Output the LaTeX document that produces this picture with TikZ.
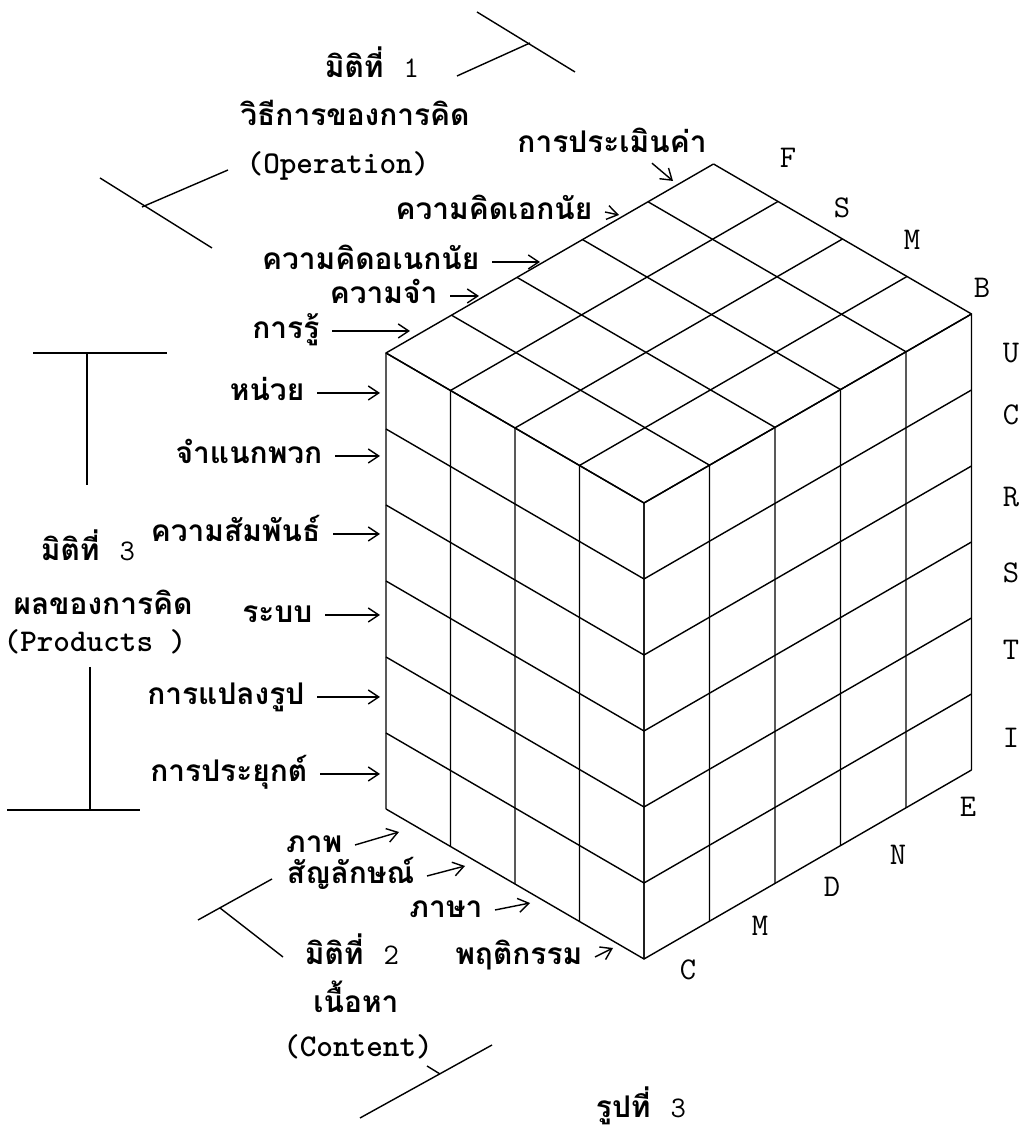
\documentclass[tikz,border=0pt]{standalone}
\usepackage{fontspec}
\newfontfamily\thai[Script=Thai]{Loma}
\usetikzlibrary{arrows.meta}

\begin{document}
\begin{tikzpicture}[>={Straight Barb[length=6pt,width=8pt]},line width=0.8pt,
  th/.style={font=\thai\bfseries\fontsize{17}{20}\selectfont,text height=0.3cm,text depth=0pt,inner sep=0pt},
  lb/.style={th,anchor=east,inner xsep=0.24cm},
  lt/.style={font=\ttfamily\fontsize{18}{20}\selectfont,inner sep=0pt},
  ltb/.style={lt,font=\ttfamily\bfseries\fontsize{18}{20}\selectfont}]
\useasboundingbox (0,0) rectangle (20.54,22.7);

\begin{scope}[shift={(12.88,3.52)},x={(1.31cm,0.756cm)},y={(-1.29cm,0.75cm)},z={(0cm,1.52cm)}]
\foreach \i in {0,...,5} \draw (\i,0,0) -- (\i,0,6) -- (\i,4,6);
\foreach \j in {0,...,4} \draw (0,\j,0) -- (0,\j,6) -- (5,\j,6);
\foreach \k in {0,...,6} \draw (5,0,\k) -- (0,0,\k) -- (0,4,\k);
\end{scope}

\node[th] (d1) at (7.44,21.3) {มิติที่\hspace{0.4cm}{\ttfamily\mdseries 1}};
\node[th] (d1a) at (7.1,20.34) {วิธีการของการคิด};
\node[ltb] (d1b) at (6.76,19.38) {(Operation)};
\node[th] (d3) at (1.76,11.64) {มิติที่\hspace{0.4cm}{\ttfamily\mdseries 3}};
\node[th] (d3a) at (2.06,10.56) {ผลของการคิด};
\node[ltb] (d3b) at (1.9,9.86) {(Products )};
\node[th] (d2) at (7.04,3.56) {มิติที่\hspace{0.4cm}{\ttfamily\mdseries 2}};
\node[th] (d2a) at (7.12,2.6) {เนื้อหา};
\node[ltb] (d2b) at (7.16,1.76) {(Content)};
\node[th] (fig) at (12.82,0.5) {รูปที่\hspace{0.4cm}{\ttfamily\mdseries 3}};

\draw (9.14,21.18) -- (10.6,21.84);
\draw (9.54,22.46) -- (11.5,21.26);
\draw (4.56,19.3) -- (2.84,18.56);
\draw (2.0,19.14) -- (4.24,17.74);
\draw (0.66,15.64) -- (3.34,15.64);
\draw (1.74,15.64) -- (1.74,13.0);
\draw (1.8,9.36) -- (1.8,6.5);
\draw (0.14,6.5) -- (2.8,6.5);
\draw (3.96,4.3) -- (5.44,5.12);
\draw (4.4,4.54) -- (5.66,3.56);
\draw (7.2,0.34) -- (9.84,1.8);
\draw (8.54,1.38) -- (8.8,1.22);

\node[th] (op1) at (12.24,19.8) {การประเมินค่า};
\node[lb] (op2) at (12.1,18.46) {ความคิดเอกนัย};
\node[lb] (op3) at (9.84,17.46) {ความคิดอเนกนัย};
\node[lb] (op4) at (9.0,16.78) {ความจำ};
\node[lb] (op5) at (6.64,16.08) {การรู้};
\coordinate (op1e) at (13.46,19.08);
\coordinate (op2e) at (12.38,18.4);
\coordinate (op3e) at (10.8,17.46);
\coordinate (op4e) at (9.58,16.78);
\coordinate (op5e) at (8.2,16.08);
\draw[->] ([xshift=0.8cm,yshift=-0.2cm]op1.south) -- (op1e);
\draw[->] (op2.east) -- (op2e);
\draw[->] (op3.east) -- (op3e);
\draw[->] (op4.east) -- (op4e);
\draw[->] (op5.east) -- (op5e);

\node[lb] (pr1) at (6.34,14.84) {หน่วย};
\node[lb] (pr2) at (6.70,13.58) {จำแนกพวก};
\node[lb] (pr3) at (6.66,12.02) {ความสัมพันธ์};
\node[lb] (pr4) at (6.5,10.4) {ระบบ};
\node[lb] (pr5) at (6.34,8.76) {การแปลงรูป};
\node[lb] (pr6) at (6.4,7.22) {การประยุกต์};
\foreach \n in {1,...,6} \draw[->] (pr\n.east) -- (7.6,0 |- pr\n.east);

\node[lb] (ct1) at (7.1,5.8) {ภาพ};
\node[lb] (ct2) at (8.54,5.18) {สัญลักษณ์};
\node[lb] (ct3) at (9.9,4.5) {ภาษา};
\node[lb] (ct4) at (11.9,3.56) {พฤติกรรม};
\coordinate (ct1e) at (7.98,6.06);
\coordinate (ct2e) at (9.3,5.38);
\coordinate (ct3e) at (10.6,4.64);
\coordinate (ct4e) at (12.26,3.74);
\draw[->] (ct1.east) -- (ct1e);
\draw[->] (ct2.east) -- (ct2e);
\draw[->] (ct3.east) -- (ct3e);
\draw[->] (ct4.east) -- (ct4e);

\node[lt] (cF) at (15.76,19.54) {F};
\node[lt] (cS) at (16.84,18.54) {S};
\node[lt] (cM) at (18.24,17.9) {M};
\node[lt] (cB) at (19.64,16.94) {B};
\node[lt] (pU) at (20.22,15.64) {U};
\node[lt] (pC) at (20.22,14.4) {C};
\node[lt] (pR) at (20.22,12.76) {R};
\node[lt] (pS) at (20.22,11.24) {S};
\node[lt] (pT) at (20.22,9.7) {T};
\node[lt] (pI) at (20.22,7.94) {I};
\node[lt] (oE) at (19.36,6.56) {E};
\node[lt] (oN) at (17.96,5.6) {N};
\node[lt] (oD) at (16.64,4.96) {D};
\node[lt] (oM) at (15.2,4.18) {M};
\node[lt] (oC) at (13.76,3.3) {C};
\end{tikzpicture}
\end{document}
